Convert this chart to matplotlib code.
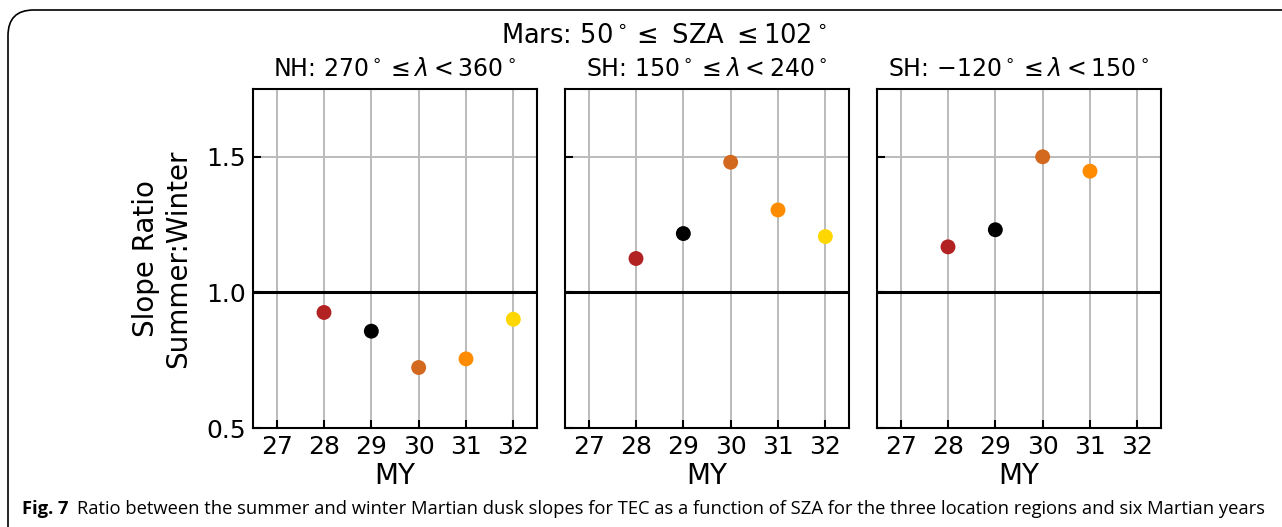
import matplotlib
matplotlib.use("Agg")
import matplotlib.pyplot as plt
from matplotlib.patches import FancyBboxPatch

plt.rcParams['font.family'] = ['DejaVu Sans']
plt.rcParams['mathtext.fontset'] = 'dejavusans'

years = [27, 28, 29, 30, 31, 32]
colors = {28: "#B22222", 29: "#000000", 30: "#D2691E", 31: "#FF8C00", 32: "#FFD700"}

nh_years = [28, 29, 30, 31, 32]
nh_ratio = [0.926, 0.857, 0.723, 0.755, 0.901]
sh1_years = [28, 29, 30, 31, 32]
sh1_ratio = [1.125, 1.217, 1.480, 1.304, 1.206]
sh2_years = [28, 29, 30, 31]
sh2_ratio = [1.168, 1.231, 1.500, 1.447]

titles = [r"NH: $270^\circ \leq \lambda < 360^\circ$",
          r"SH: $150^\circ \leq \lambda < 240^\circ$",
          r"SH: $-120^\circ \leq \lambda < 150^\circ$"]
suptitle = r"Mars: $50^\circ \leq$ SZA $\leq 102^\circ$"
yticks = [0.5, 1.0, 1.5]

W, H = 1282, 527
fig = plt.figure(figsize=(W / 100, H / 100), dpi=100)

panels = [(nh_years, nh_ratio), (sh1_years, sh1_ratio), (sh2_years, sh2_ratio)]
lefts = [253, 565, 877]
aw = 284
top, bottom = 89, 428
for i, (xs, ys) in enumerate(panels):
    ax = fig.add_axes([lefts[i] / W, 1 - bottom / H, aw / W, (bottom - top) / H])
    ax.set_xlim(26.5, 32.5)
    ax.set_ylim(0.5, 1.75)
    ax.set_xticks(years)
    ax.set_yticks(yticks)
    ax.grid(True, color="#BBBBBB", lw=1.4)
    ax.set_axisbelow(True)
    ax.axhline(1.0, color="black", lw=2.2, zorder=2)
    ax.scatter(xs, ys, c=[colors[x] for x in xs], s=115, zorder=3, edgecolors="none")
    ax.tick_params(direction="in", labelsize=18, length=6, width=1.5, pad=5)
    for sp in ax.spines.values():
        sp.set_linewidth(1.5)
    ax.set_xlabel("MY", fontsize=20, labelpad=2)
    ax.set_title(titles[i], fontsize=17, pad=9)
    if i == 0:
        ax.set_ylabel("Slope Ratio\nSummer:Winter", fontsize=20, labelpad=10)
    else:
        ax.tick_params(labelleft=False)

fig.text(664 / W, 1 - 36 / H, suptitle, fontsize=18.5, ha="center", va="center")

box = FancyBboxPatch((8 / W, -0.1), 1.2, 1 - 10 / H + 0.1,
                     boxstyle="round,pad=0,rounding_size=0.02",
                     transform=fig.transFigure, fill=False, ec="black", lw=1.2,
                     mutation_aspect=W / H)
fig.patches.append(box)

fig.text(22 / W, 1 - 509 / H, "Fig. 7", fontsize=13.2, fontweight="bold",
         family="Open Sans", ha="left", va="center")
fig.text(77 / W, 1 - 509 / H,
         "Ratio between the summer and winter Martian dusk slopes for TEC as a function of SZA for the three location regions and six Martian years",
         fontsize=13.2, family="Open Sans", ha="left", va="center")

fig.savefig("out.png", dpi=100)
